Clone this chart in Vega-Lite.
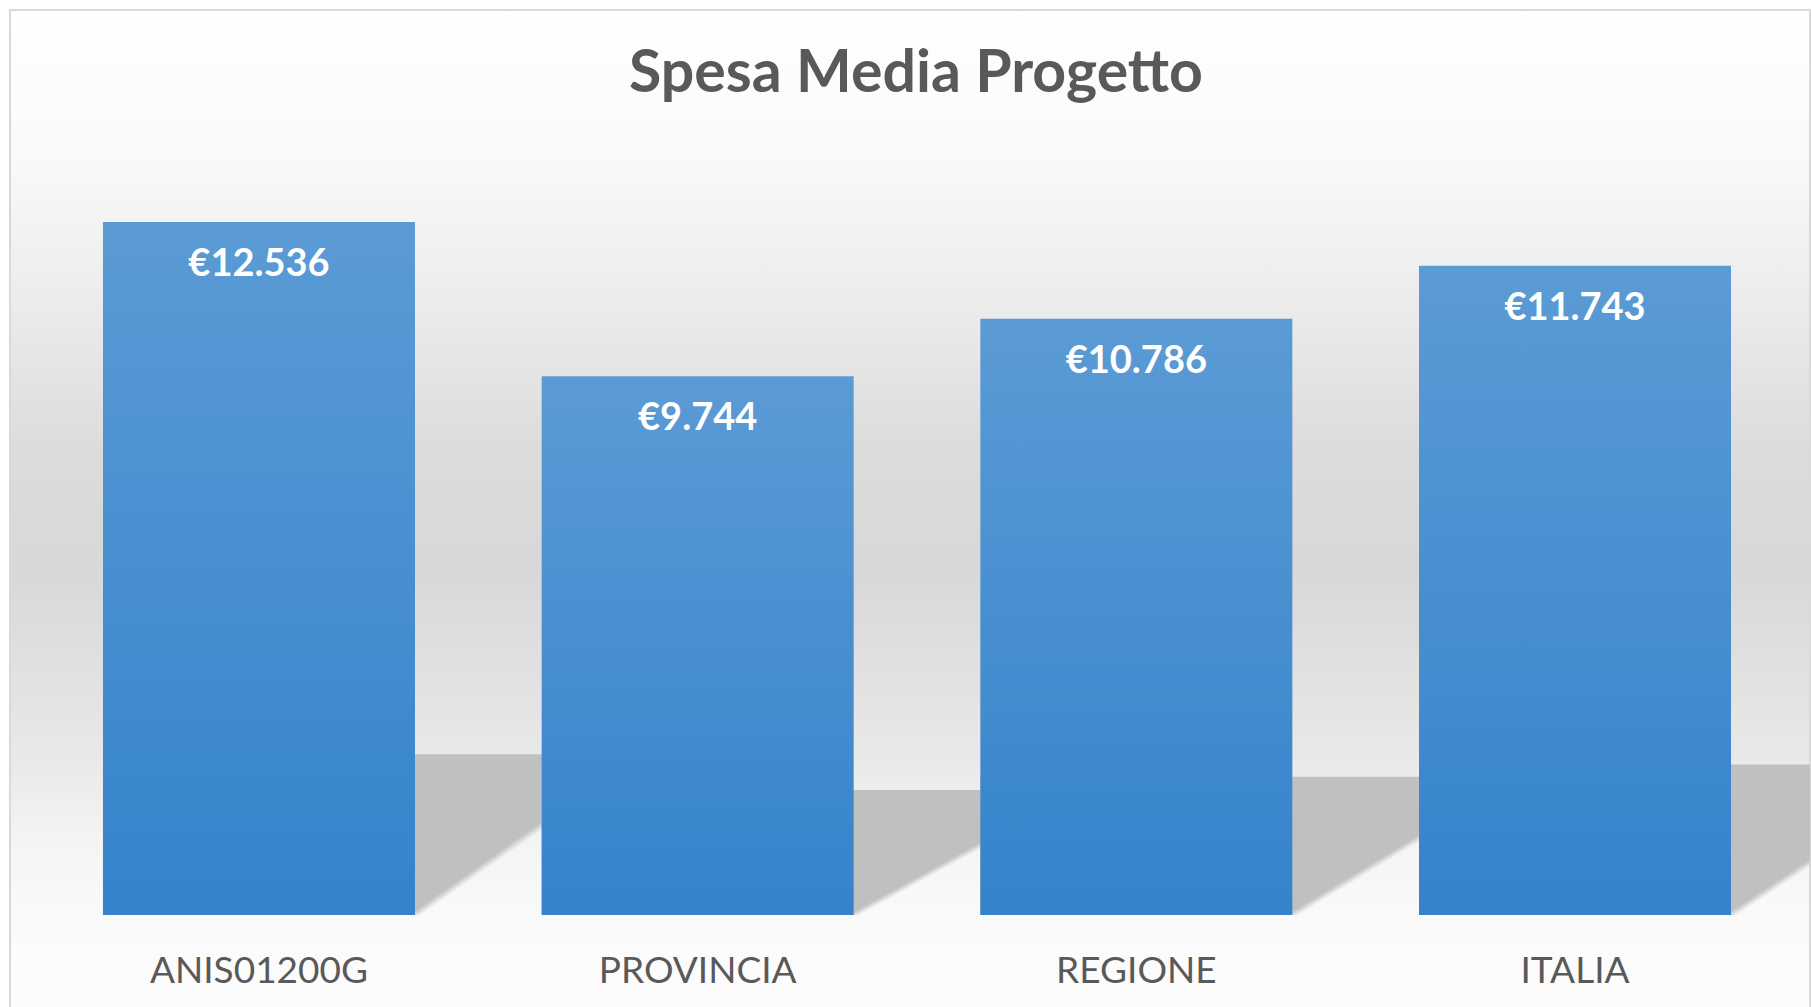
{
  "$schema": "https://vega.github.io/schema/vega-lite/v6.json",
  "width": 1800,
  "height": 1000,
  "autosize": {"type": "none"},
  "padding": {"left": 10, "top": 10, "right": 1, "bottom": 0},
  "background": "#ffffff",
  "config": {
    "view": {"stroke": null},
    "locale": {"number": {"decimal": ",", "thousands": ".", "grouping": [3], "currency": ["€", ""]}}
  },
  "title": {
    "text": "Spesa Media Progetto",
    "font": "Lato",
    "fontSize": 59,
    "fontWeight": "bold",
    "color": "#595959",
    "anchor": "middle",
    "baseline": "bottom",
    "offset": -94,
    "dx": 6,
    "dy": 60
  },
  "data": {
    "values": [
      {"cat": "ANIS01200G", "value": 12536},
      {"cat": "PROVINCIA", "value": 9744},
      {"cat": "REGIONE", "value": 10786},
      {"cat": "ITALIA", "value": 11743}
    ]
  },
  "layer": [
    {
      "data": {"values": [{}]},
      "mark": {
        "type": "rect",
        "stroke": "#d9d9d9",
        "strokeWidth": 2,
        "fill": {
          "gradient": "linear",
          "x1": 0, "y1": 0, "x2": 0, "y2": 1,
          "stops": [
            {"offset": 0, "color": "#ffffff"},
            {"offset": 0.14, "color": "#fafafa"},
            {"offset": 0.29, "color": "#ececec"},
            {"offset": 0.44, "color": "#dcdcdc"},
            {"offset": 0.56, "color": "#d8d8d8"},
            {"offset": 0.74, "color": "#e8e8e8"},
            {"offset": 0.84, "color": "#f5f5f5"},
            {"offset": 0.905, "color": "#fafafa"},
            {"offset": 1, "color": "#fdfdfd"}
          ]
        }
      },
      "encoding": {}
    },
    {
      "mark": {
        "type": "bar",
        "width": 540,
        "xOffset": 114,
        "clip": true,
        "fill": {
          "gradient": "linear",
          "x1": 0.9, "y1": -0.0422, "x2": 1.1, "y2": 0.0422,
          "stops": [
            {"offset": 0, "color": "#c0c0c0"},
            {"offset": 0.45, "color": "#c0c0c0"},
            {"offset": 0.55, "color": "rgba(192,192,192,0)"},
            {"offset": 1, "color": "rgba(192,192,192,0)"}
          ]
        }
      },
      "encoding": {
        "x": {
          "field": "cat", "type": "nominal", "sort": null,
          "scale": {"paddingInner": 0.28876, "paddingOuter": 0.196, "align": 0.5407},
          "axis": {"title": null, "orient": "bottom", "offset": -95, "zindex": 1, "domain": false, "ticks": false, "tickSize": 0, "labelPadding": 67, "labelBaseline": "alphabetic", "labelFont": "Lato", "labelFontSize": 37, "labelColor": "#595959", "labelAngle": 0, "labelLimit": 0, "grid": false}
        },
        "y": {"field": "value", "type": "quantitative", "scale": {"domain": [-7407, 70564], "nice": false, "zero": false}, "axis": null},
        "y2": {"datum": 0}
      }
    },
    {
      "mark": {
        "type": "bar",
        "fill": {
          "gradient": "linear",
          "x1": 0, "y1": 0, "x2": 0, "y2": 1,
          "stops": [
            {"offset": 0, "color": "#5b9bd5"},
            {"offset": 1, "color": "#3483cb"}
          ]
        }
      },
      "encoding": {
        "x": {
          "field": "cat", "type": "nominal", "sort": null,
          "scale": {"paddingInner": 0.28876, "paddingOuter": 0.196, "align": 0.5407},
          "axis": {"title": null, "orient": "bottom", "offset": -95, "zindex": 1, "domain": false, "ticks": false, "tickSize": 0, "labelPadding": 67, "labelBaseline": "alphabetic", "labelFont": "Lato", "labelFontSize": 37, "labelColor": "#595959", "labelAngle": 0, "labelLimit": 0, "grid": false}
        },
        "y": {"field": "value", "type": "quantitative", "scale": {"domain": [-1718.5, 16370.9], "nice": false, "zero": false}, "axis": null},
        "y2": {"datum": 0}
      }
    },
    {
      "mark": {
        "type": "text",
        "font": "Lato",
        "fontWeight": "bold",
        "fontSize": 38,
        "color": "#ffffff",
        "align": "center",
        "baseline": "alphabetic",
        "dy": 54
      },
      "encoding": {
        "x": {
          "field": "cat", "type": "nominal", "sort": null,
          "scale": {"paddingInner": 0.28876, "paddingOuter": 0.196, "align": 0.5407},
          "axis": {"title": null, "orient": "bottom", "offset": -95, "zindex": 1, "domain": false, "ticks": false, "tickSize": 0, "labelPadding": 67, "labelBaseline": "alphabetic", "labelFont": "Lato", "labelFontSize": 37, "labelColor": "#595959", "labelAngle": 0, "labelLimit": 0, "grid": false}
        },
        "y": {"field": "value", "type": "quantitative", "scale": {"domain": [-1718.5, 16370.9], "nice": false, "zero": false}, "axis": null},
        "text": {"field": "value", "type": "quantitative", "format": "$,.0f"}
      }
    }
  ],
  "resolve": {"scale": {"y": "independent"}}
}
